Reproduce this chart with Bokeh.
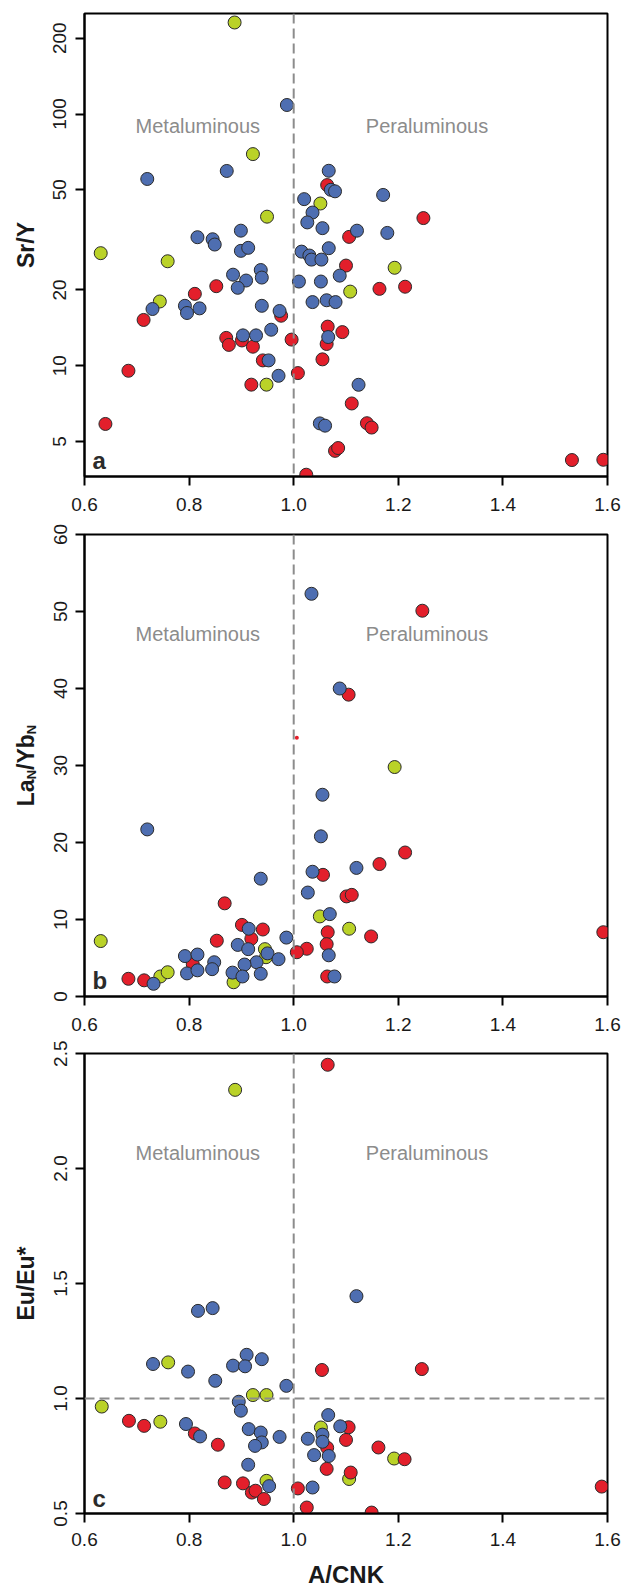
from math import pi, log10
from bokeh.plotting import figure
from bokeh.layouts import column, row
from bokeh.models import (Range1d, FixedTicker, NumeralTickFormatter, Span, Label,
                          ColumnDataSource)
from bokeh.embed import file_html
from bokeh.resources import INLINE

# ---------------- data ----------------
x_ticks = [0.6, 0.8, 1.0, 1.2, 1.4, 1.6]

# Panel a: Sr/Y
a_green_x = [0.887, 0.922, 1.051, 0.949, 0.631, 0.759, 1.193, 1.108, 0.744, 0.948]
a_green_y = [231, 69.3, 44.1, 39.1, 28.0, 26.0, 24.5, 19.7, 18.0, 8.41]
a_red_x = [1.064, 1.248, 1.106, 1.100, 0.852, 1.164, 1.213, 0.811, 0.713, 0.976,
           1.065, 1.093, 1.063, 1.055, 0.871, 0.876, 0.901, 0.922, 0.996, 0.941,
           1.008, 0.919, 0.684, 1.111, 0.640, 1.140, 1.149, 1.079, 1.085, 1.024,
           1.532, 1.592]
a_red_y = [52.2, 38.6, 32.5, 25.0, 20.7, 20.2, 20.6, 19.3, 15.2, 15.8,
           14.3, 13.6, 12.2, 10.6, 12.9, 12.1, 12.6, 11.9, 12.7, 10.5,
           9.35, 8.41, 9.55, 7.08, 5.87, 5.91, 5.68, 4.59, 4.71, 3.69,
           4.22, 4.23]
a_blue_x = [0.987, 0.720, 0.872, 1.067, 1.071, 1.079, 1.171, 1.020, 1.036, 1.026,
            1.055, 0.899, 1.121, 1.179, 0.816, 0.845, 0.849, 0.899, 0.913, 1.015,
            1.030, 1.034, 1.053, 1.067, 0.884, 0.937, 0.939, 0.909, 0.893, 1.010,
            1.052, 1.088, 0.730, 0.792, 0.796, 0.820, 0.939, 0.973, 1.036, 1.063,
            1.080, 1.066, 0.957, 0.903, 0.928, 0.952, 0.971, 1.124, 1.050, 1.060]
a_blue_y = [108.6, 55.2, 59.4, 59.5, 50.0, 49.3, 47.7, 45.9, 40.6, 37.1,
            35.2, 34.4, 34.4, 33.7, 32.4, 31.8, 30.3, 28.6, 29.4, 28.4,
            27.4, 26.4, 26.4, 29.3, 23.0, 24.0, 22.4, 21.8, 20.4, 21.6,
            21.6, 22.8, 16.8, 17.3, 16.2, 16.9, 17.3, 16.5, 17.9, 18.2,
            17.9, 13.0, 13.9, 13.2, 13.2, 10.5, 9.12, 8.40, 5.90, 5.78]
a_y_ticks = [5, 10, 20, 50, 100, 200]

# Panel b: LaN/YbN
b_green_x = [0.631, 0.745, 0.759, 0.885, 0.945, 0.947, 1.050, 1.106, 1.193]
b_green_y = [7.2, 2.6, 3.15, 1.85, 6.15, 5.1, 10.4, 8.8, 29.8]
b_red_x = [1.246, 1.105, 1.213, 1.164, 1.056, 1.101, 1.111, 0.868, 0.901, 0.941,
           1.065, 1.592, 1.148, 0.853, 0.919, 1.063, 1.025, 1.006, 0.807, 0.684,
           0.714, 1.064]
b_red_y = [50.1, 39.2, 18.7, 17.2, 15.8, 13.0, 13.2, 12.1, 9.3, 8.7,
           8.35, 8.35, 7.8, 7.25, 7.5, 6.8, 6.2, 5.75, 4.2, 2.3,
           2.1, 2.6]
b_blue_x = [1.034, 1.088, 1.055, 0.720, 1.052, 1.120, 1.036, 0.937, 1.027, 1.069,
            0.914, 0.986, 0.893, 0.913, 0.950, 0.971, 1.067, 0.792, 0.816, 0.848,
            0.929, 0.906, 0.796, 0.816, 0.844, 0.883, 0.937, 0.902, 0.732, 1.078]
b_blue_y = [52.3, 40.0, 26.2, 21.7, 20.8, 16.7, 16.2, 15.3, 13.5, 10.7,
            8.8, 7.65, 6.7, 6.15, 5.6, 4.85, 5.35, 5.25, 5.45, 4.45,
            4.45, 4.15, 3.0, 3.4, 3.55, 3.1, 2.95, 2.6, 1.65, 2.6]
b_small_x = [1.006]
b_small_y = [33.6]
b_y_ticks = [0, 10, 20, 30, 40, 50, 60]

# Panel c: Eu/Eu*
c_green_x = [0.888, 0.760, 0.922, 0.948, 0.633, 0.745, 0.948, 1.052, 1.192, 1.106]
c_green_y = [2.342, 1.157, 1.015, 1.015, 0.965, 0.899, 0.642, 0.874, 0.739, 0.650]
c_red_x = [1.065, 1.054, 1.245, 0.685, 0.714, 0.811, 0.855, 0.868, 0.903, 0.920,
           0.927, 0.943, 1.008, 1.025, 1.149, 1.589, 1.105, 1.100, 1.064, 1.162,
           1.212, 1.063, 1.109]
c_red_y = [2.451, 1.124, 1.128, 0.903, 0.881, 0.848, 0.799, 0.635, 0.631, 0.591,
           0.599, 0.563, 0.609, 0.526, 0.504, 0.617, 0.875, 0.820, 0.786, 0.787,
           0.736, 0.694, 0.678]
c_blue_x = [1.120, 0.817, 0.845, 0.910, 0.939, 0.731, 0.884, 0.907, 0.798, 0.850,
            0.986, 0.895, 0.899, 0.794, 0.821, 0.914, 0.937, 0.939, 0.926, 0.973,
            0.913, 0.953, 1.036, 1.066, 1.055, 1.055, 1.089, 1.027, 1.039, 1.067]
c_blue_y = [1.445, 1.381, 1.393, 1.190, 1.171, 1.150, 1.143, 1.140, 1.117, 1.077,
            1.055, 0.986, 0.947, 0.889, 0.835, 0.867, 0.852, 0.809, 0.794, 0.833,
            0.712, 0.619, 0.613, 0.928, 0.843, 0.812, 0.879, 0.825, 0.754, 0.750]
c_y_ticks = [0.5, 1.0, 1.5, 2.0, 2.5]

# ---------------- style ----------------
FONT = "Liberation Sans"
GREEN = "#bad228"
RED = "#e31f2b"
BLUE = "#4e6eb1"
EDGE = "#2b2b2b"
GRAY = "#8c8c8c"
DARK = "#1a1a1a"
W = 625
TW = 40             # width of the strip holding the y title
BL, BR = 84, 18     # frame left / right margins of the whole row
FW = W - BL - BR
X0, X1 = 0.6, 1.6
MID = 0.347         # em-box middle above the baseline


def xdata(px):
    return X0 + (px - BL) / FW * (X1 - X0)


class Geo:
    def __init__(self, top, fh, lo, hi, log=False):
        self.top, self.fh, self.lo, self.hi, self.log = top, fh, lo, hi, log

    def y(self, py):
        f = (self.top + self.fh - py) / self.fh
        if self.log:
            return 10 ** (log10(self.lo) + f * (log10(self.hi) - log10(self.lo)))
        return self.lo + f * (self.hi - self.lo)


def make_fig(height, bt, bb, lo, hi, yticks, yfmt, log=False, xstand=12):
    p = figure(width=W - TW, height=height, x_range=Range1d(X0, X1),
               y_range=Range1d(lo, hi), y_axis_type="log" if log else "linear",
               output_backend="svg", toolbar_location=None, title=None,
               min_border_left=BL - TW, min_border_right=BR,
               min_border_top=bt, min_border_bottom=bb)
    p.grid.visible = False
    p.outline_line_color = "black"
    p.outline_line_width = 2
    p.background_fill_color = "white"
    p.border_fill_color = "white"
    for ax in (p.xaxis[0], p.yaxis[0]):
        ax.axis_line_width = 2
        ax.axis_line_color = "black"
        ax.major_tick_line_width = 2
        ax.major_tick_line_color = "black"
        ax.major_tick_out = 9
        ax.major_tick_in = 0
        ax.minor_tick_line_color = None
        ax.major_label_text_font = FONT
        ax.major_label_text_font_size = "19px"
        ax.major_label_text_color = DARK
    p.xaxis.ticker = FixedTicker(ticks=x_ticks)
    p.xaxis.formatter = NumeralTickFormatter(format="0.0")
    p.xaxis.major_label_standoff = xstand
    p.yaxis.ticker = FixedTicker(ticks=yticks)
    p.yaxis.formatter = NumeralTickFormatter(format=yfmt)
    p.yaxis.major_label_orientation = "vertical"
    p.yaxis.major_label_standoff = 9
    geo = Geo(bt, height - bt - bb, lo, hi, log)
    return p, geo


def add_points(p, gx, gy, rx, ry, bx, by):
    for xs_, ys_, col in ((gx, gy, GREEN), (rx, ry, RED), (bx, by, BLUE)):
        src = ColumnDataSource(dict(x=xs_, y=ys_))
        p.scatter("x", "y", source=src, marker="circle", size=13, fill_color=col,
                  line_color=EDGE, line_width=1)


def add_common(p, geo, label_center, letter, letter_base):
    p.add_layout(Span(location=1.0, dimension="height", line_color=GRAY,
                      line_width=2, line_dash="10 5"))
    for txt, px in (("Metaluminous", 197.3), ("Peraluminous", 426.5)):
        p.add_layout(Label(x=xdata(px), y=geo.y(label_center), text=txt,
                           text_font=FONT, text_font_size="20px", text_color=GRAY,
                           text_align="center", text_baseline="middle"))
    p.add_layout(Label(x=xdata(92), y=geo.y(letter_base - MID * 24), text=letter,
                       text_font=FONT, text_font_size="24px", text_font_style="bold",
                       text_color="#2b2b2b", text_align="left",
                       text_baseline="middle"))


def blank(width, height, yspan):
    t = figure(width=width, height=height, x_range=Range1d(0, width),
               y_range=Range1d(0, yspan), x_axis_type=None, y_axis_type=None,
               output_backend="svg", toolbar_location=None, title=None,
               min_border=0, min_border_left=0, min_border_right=0,
               min_border_top=0, min_border_bottom=0)
    t.outline_line_color = None
    t.grid.visible = False
    return t


def title_strip(height, geo, parts, base_px=33):
    """Narrow figure left of a panel; inside a row its frame lines up with the
    panel's frame, so its y coordinate runs 0..frame height (pixels)."""
    fh = geo.fh
    t = blank(TW, height, fh)
    total = sum(sz * em for _, sz, em, _ in parts)
    pos = fh / 2.0 - total / 2.0      # start of the title, measured from frame bottom
    for txt, sz, em, shift in parts:
        w = sz * em
        t.add_layout(Label(x=base_px + shift - MID * sz, y=pos + w / 2.0, text=txt,
                           angle=pi / 2, text_font=FONT, text_font_size=f"{sz}px",
                           text_font_style="bold", text_color=DARK,
                           text_align="center", text_baseline="middle"))
        pos += w
    return t


# ---------------- panel a ----------------
HA = 520
pa, ga = make_fig(HA, 13, 44, 3.63, 250.8, a_y_ticks, "0", log=True)
add_common(pa, ga, 125.7, "a", 468)
add_points(pa, a_green_x, a_green_y, a_red_x, a_red_y, a_blue_x, a_blue_y)
ta = title_strip(HA, ga, [("Sr/Y", 23, 2.001, 0)])

# ---------------- panel b ----------------
HB = 520
pb, gb = make_fig(HB, 14, 44, 0, 60, b_y_ticks, "0")
add_common(pb, gb, 113.3, "b", 468)
add_points(pb, b_green_x, b_green_y, b_red_x, b_red_y, b_blue_x, b_blue_y)
pb.scatter(b_small_x, b_small_y, marker="circle", size=4, fill_color=RED, line_color=None)
tb = title_strip(HB, gb, [("La", 23, 1.167, 0), ("N", 13, 0.722, 3),
                          ("/Yb", 23, 1.556, 0), ("N", 13, 0.722, 3)])

# ---------------- panel c ----------------
HC = 514
pc, gc = make_fig(HC, 13, 41, 0.5, 2.5, c_y_ticks, "0.0", xstand=10)
add_common(pc, gc, 112.3, "c", 466.5)
pc.add_layout(Span(location=1.0, dimension="width", line_color=GRAY,
                   line_width=2, line_dash="10 5"))
add_points(pc, c_green_x, c_green_y, c_red_x, c_red_y, c_blue_x, c_blue_y)
tc = title_strip(HC, gc, [("Eu/Eu*", 23, 3.223, 0)])

# ---------------- x title strip ----------------
HX = 1586 - HA - HB - HC
xs = blank(W, HX, HX)
xs.add_layout(Label(x=345.5, y=HX - 19.5, text="A/CNK", text_font=FONT,
                    text_font_size="24px", text_font_style="bold", text_color=DARK,
                    text_align="center", text_baseline="middle"))

layout = column(row(ta, pa, spacing=0), row(tb, pb, spacing=0),
                row(tc, pc, spacing=0), xs, spacing=0)
open("out.html", "w").write(file_html(layout, INLINE))
